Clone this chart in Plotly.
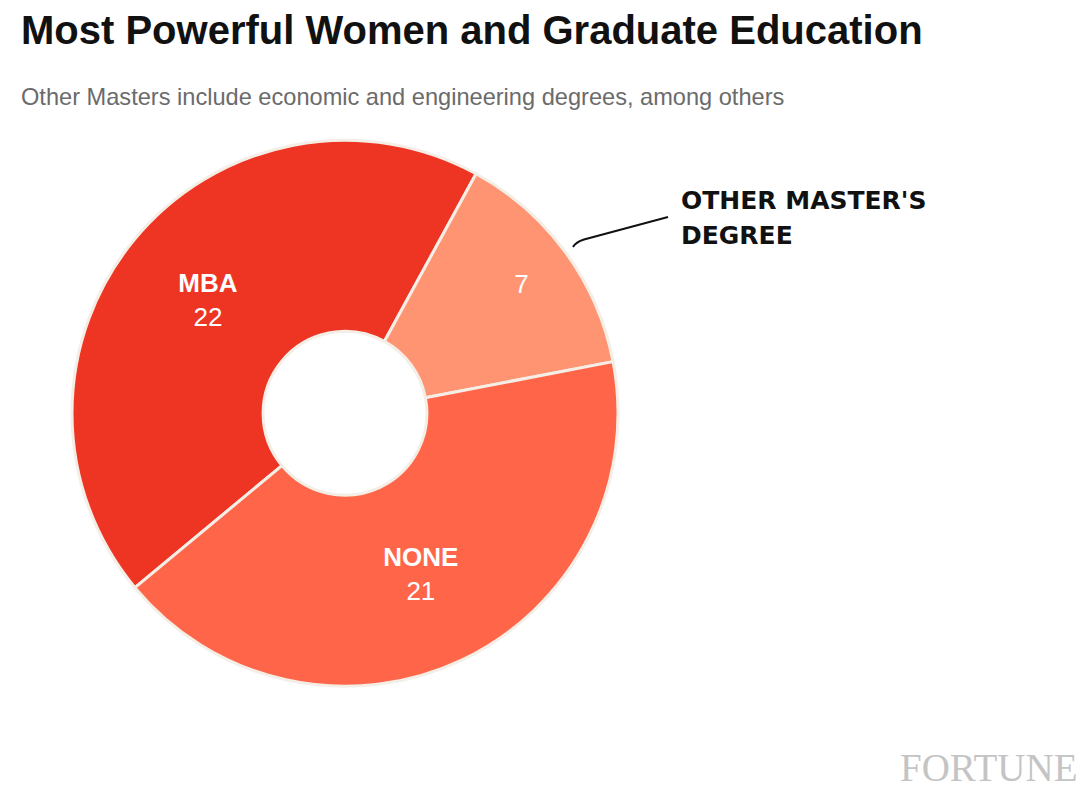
import plotly.graph_objects as go

# ---- data ----
labels = ["MBA", "OTHER MASTER'S DEGREE", "NONE"]
values = [22, 7, 21]
colors = ["#EE3524", "#FF9473", "#FF6549"]
templates = [
    "<b>%{label}</b><br>%{value}",
    "&nbsp;&nbsp;&nbsp;&nbsp;&nbsp;&nbsp;%{value}<br>&nbsp;",
    "<b>%{label}</b><br>%{value}",
]

title_text = "Most Powerful Women and Graduate Education"
subtitle_text = "Other Masters include economic and engineering degrees, among others"
outer_label_lines = ["OTHER MASTER'S", "DEGREE"]
brand = "FORTUNE"

W, H = 1090, 800
OFF = 8  # page body margin


def px(x):
    return (x - OFF) / W


def py(y):
    return 1 - (y - OFF) / H


fig = go.Figure(
    go.Pie(
        labels=labels,
        values=values,
        sort=False,
        direction="clockwise",
        rotation=230.3,
        hole=0.30,
        marker=dict(colors=colors, line=dict(color="#F4EEE6", width=3)),
        texttemplate=templates,
        textposition="inside",
        insidetextorientation="horizontal",
        insidetextfont=dict(family="Liberation Sans, Arial, sans-serif", size=26, color="white"),
        hoverinfo="skip",
        showlegend=False,
        domain=dict(x=[px(72), px(618)], y=[py(686.5), py(140)]),
    )
)

annotations = [
    dict(text=f"<b>{title_text}</b>", x=px(19), y=py(30), xanchor="left", yanchor="middle",
         font=dict(family="Liberation Sans, Arial, sans-serif", size=40, color="#111111")),
    dict(text=subtitle_text, x=px(19), y=py(97), xanchor="left", yanchor="middle",
         font=dict(family="Liberation Sans, Arial, sans-serif", size=23.6, color="#6B6B6B")),
    dict(text=f"<b>{outer_label_lines[0]}</b>", x=px(679), y=py(200), xanchor="left", yanchor="middle",
         font=dict(family="DejaVu Sans, sans-serif", size=25, color="#111111")),
    dict(text=f"<b>{outer_label_lines[1]}</b>", x=px(679), y=py(236), xanchor="left", yanchor="middle",
         font=dict(family="DejaVu Sans, sans-serif", size=25, color="#111111")),
    dict(text=brand, x=px(1080), y=py(767), xanchor="right", yanchor="middle",
         font=dict(family="Liberation Serif, Times New Roman, serif", size=39, color="#C4C4C4")),
]
for a in annotations:
    a.update(xref="paper", yref="paper", showarrow=False)

leader = (f"M {px(573)} {py(247)} Q {px(576)} {py(242)} {px(584)} {py(239.5)} "
          f"L {px(668)} {py(217)}")

fig.update_layout(
    width=W,
    height=H,
    margin=dict(l=0, r=0, t=0, b=0),
    paper_bgcolor="white",
    plot_bgcolor="white",
    annotations=annotations,
    shapes=[dict(type="path", xref="paper", yref="paper", path=leader,
                 line=dict(color="#111111", width=2))],
)

fig.write_html("out.html")
